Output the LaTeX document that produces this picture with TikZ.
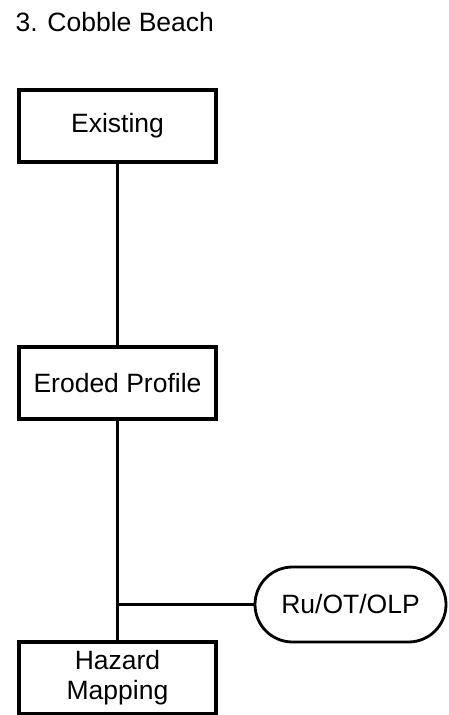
\documentclass[tikz,border=0pt]{standalone}
\usepackage{fontspec}
\setmainfont{Liberation Sans}
\usetikzlibrary{shapes.misc}
\begin{document}
\begin{tikzpicture}[x=1pt,y=-1pt,
  every node/.style={font=\fontsize{26.5}{30}\selectfont},
  stepbox/.style={draw,line width=3.4pt,minimum width=197pt,inner sep=0pt,align=center},
  pillbox/.style={draw,rounded rectangle,line width=2.8pt,minimum width=191pt,minimum height=75pt,inner sep=0pt},
  link/.style={line width=3.4pt},
  thinlink/.style={line width=2.8pt}]
\useasboundingbox (0,0) rectangle (448,715);
\node[anchor=base west] (title) at (12,31) {3. Cobble Beach};
\node[stepbox,minimum height=72pt] (exist) at (117.5,126) {Existing};
\node[stepbox,minimum height=72pt] (eroded) at (117.5,383) {Eroded Profile};
\node[stepbox,minimum height=72pt] (hazard) at (117.5,678) {Hazard\\Mapping};
\node[pillbox] (ru) at (350.5,604.5) {Ru/OT/OLP};
\coordinate (junc) at (eroded.south |- ru.west);
\draw[link] (exist.south) -- (eroded.north);
\draw[link] (eroded.south) -- (hazard.north);
\draw[thinlink] (junc) -- (ru.west);
\end{tikzpicture}
\end{document}
